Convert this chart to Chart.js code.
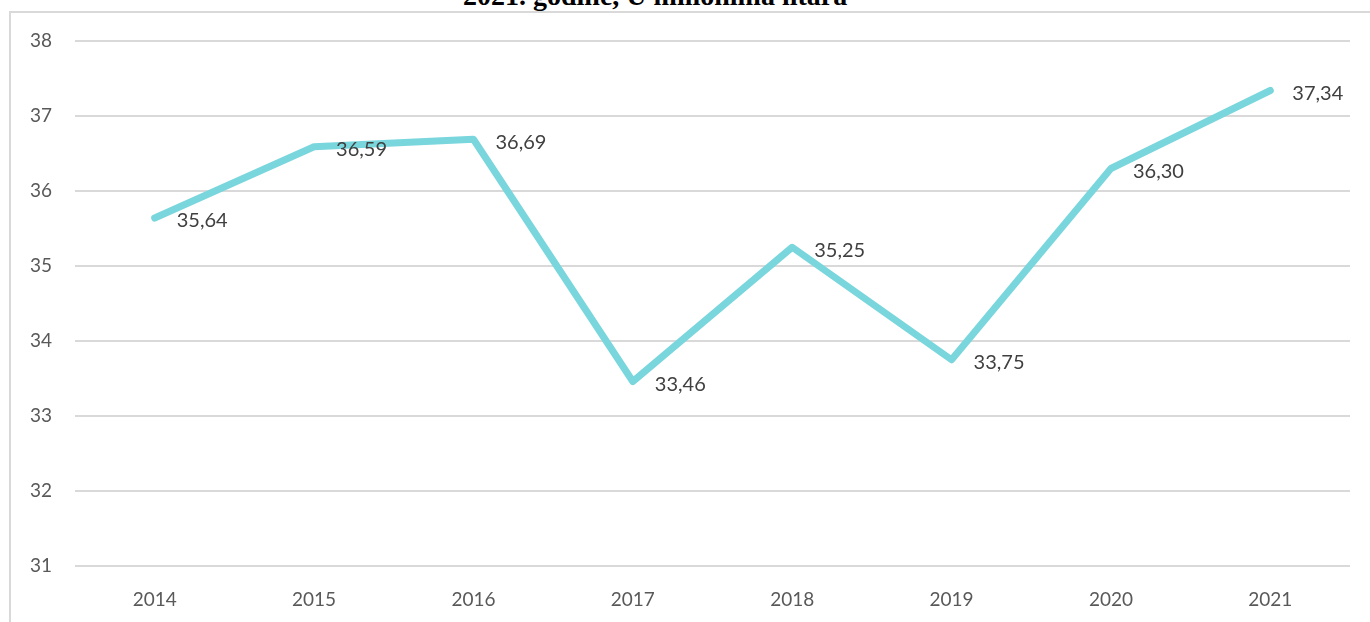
<!DOCTYPE html>
<html>
<head>
<meta charset="utf-8">
<script src="https://cdn.jsdelivr.net/npm/chart.js@4/dist/chart.umd.min.js"></script>
<style>
  html, body { margin: 0; padding: 0; background: #fff; }
  #wrap { position: relative; width: 1370px; height: 622px; overflow: hidden; }
  #title { position: absolute; left: 463px; top: -18px; font: bold 28px "Liberation Serif", "Times New Roman", serif; color: #000; white-space: nowrap; line-height: 28px; }
  #frame { position: absolute; left: 9px; top: 11px; right: -5px; bottom: -5px; border-left: 2px solid #d9d9d9; border-top: 2px solid #d9d9d9; }
  canvas { position: absolute; left: 0; top: 0; }
</style>
</head>
<body>
<div id="wrap">
  <div id="title">2021. godine, U milionima litara</div>
  <div id="frame"></div>
  <canvas id="c" width="1370" height="622"></canvas>
</div>
<script>
const categories = ['2014', '2015', '2016', '2017', '2018', '2019', '2020', '2021'];
const values = [35.64, 36.59, 36.69, 33.46, 35.25, 33.75, 36.30, 37.34];
const yMin = 31, yMax = 38, yStep = 1;

const labelPlugin = {
  id: 'pointLabels',
  afterDatasetsDraw(chart) {
    const ctx = chart.ctx;
    const meta = chart.getDatasetMeta(0);
    ctx.save();
    ctx.font = '20px Lato, "Open Sans", sans-serif';
    ctx.fillStyle = '#404040';
    ctx.textAlign = 'left';
    ctx.textBaseline = 'middle';
    meta.data.forEach((pt, i) => {
      const txt = values[i].toFixed(2).replace('.', ',');
      ctx.fillText(txt, pt.x + 22, pt.y + 3);
    });
    ctx.restore();
  }
};

new Chart(document.getElementById('c'), {
  type: 'line',
  data: {
    labels: categories,
    datasets: [{
      data: values,
      borderColor: '#79D6DC',
      borderWidth: 7,
      borderCapStyle: 'round',
      borderJoinStyle: 'round',
      pointRadius: 0,
      tension: 0,
      fill: false
    }]
  },
  options: {
    responsive: false,
    animation: false,
    layout: { padding: { left: 0, right: 20, top: 41, bottom: 0 } },
    plugins: { legend: { display: false }, title: { display: false }, tooltip: { enabled: false } },
    scales: {
      x: {
        offset: true,
        grid: { display: false },
        border: { display: false },
        ticks: { color: '#595959', font: { family: 'Lato, "Open Sans", sans-serif', size: 19 }, padding: 14 },
        afterFit(s) { s.height = 56; }
      },
      y: {
        min: yMin, max: yMax,
        grid: { color: '#d9d9d9', lineWidth: 2, drawTicks: false },
        border: { display: false },
        ticks: { stepSize: yStep, color: '#595959', font: { family: 'Lato, "Open Sans", sans-serif', size: 19 }, padding: 23 },
        afterFit(s) { s.width = 75; }
      }
    }
  },
  plugins: [labelPlugin]
});
</script>
</body>
</html>
